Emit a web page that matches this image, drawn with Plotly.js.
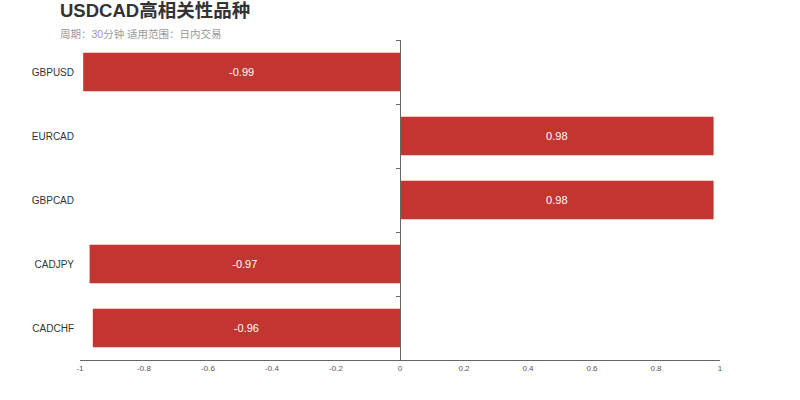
<!DOCTYPE html>
<html>
<head>
<meta charset="utf-8">
<script src="https://cdn.plot.ly/plotly-3.0.1.min.js"></script>
<style>html,body{margin:0;padding:0;background:#fff;}#chart{width:800px;height:400px;}</style>
</head>
<body>
<div id="chart"></div>
<script>
var categories = ["GBPUSD", "EURCAD", "GBPCAD", "CADJPY", "CADCHF"];
var values = [-0.99, 0.98, 0.98, -0.97, -0.96];
var xTickVals = [-1, -0.8, -0.6, -0.4, -0.2, 0, 0.2, 0.4, 0.6, 0.8, 1];
var titleText = "USDCAD高相关性品种";
var subtitleText = "周期：30分钟 适用范围：日内交易";

var catOrder = categories.slice().reverse();

var bars = {
  type: "bar",
  orientation: "h",
  x: values,
  y: categories,
  marker: {color: "#c23531"},
  text: values.map(function(v){return v.toFixed(2);}),
  textposition: "inside",
  insidetextanchor: "middle",
  textfont: {color: "#ffffff", size: 11, family: "Liberation Sans, Arial, sans-serif"},
  hoverinfo: "skip",
  width: 0.6
};
var ghost = {
  type: "scatter",
  mode: "markers",
  x: values,
  y: categories,
  yaxis: "y2",
  marker: {opacity: 0},
  hoverinfo: "skip",
  showlegend: false
};

var layout = {
  width: 800, height: 400,
  margin: {l: 80, r: 80, t: 40, b: 40},
  paper_bgcolor: "#fff", plot_bgcolor: "#fff",
  showlegend: false,
  font: {family: "Liberation Sans, Arial, sans-serif", color: "#333"},
  xaxis: {
    range: [-1, 1], tickvals: xTickVals, ticktext: xTickVals.map(String),
    showgrid: false, zeroline: false, showline: true, linecolor: "#666", linewidth: 1,
    ticks: "", tickfont: {size: 8, color: "#555"}, fixedrange: true
  },
  yaxis: {
    type: "category", categoryorder: "array", categoryarray: catOrder,
    showgrid: false, zeroline: false, showline: false, ticks: "",
    tickfont: {size: 10, color: "#333"}, ticklabelstandoff: 5, fixedrange: true
  },
  yaxis2: {
    type: "category", categoryorder: "array", categoryarray: catOrder,
    overlaying: "y", matches: "y", anchor: "free", position: 0.5, side: "left",
    showgrid: false, zeroline: false, showline: true, linecolor: "#666", linewidth: 1,
    ticks: "outside", ticklen: 4, tickcolor: "#666", tickson: "boundaries",
    showticklabels: false, fixedrange: true
  },
  annotations: [
    {xref: "paper", yref: "paper", x: -0.035, y: 1.092, xanchor: "left", yanchor: "middle",
     text: "<b>" + titleText + "</b>", showarrow: false,
     font: {size: 18.5, color: "#333", family: "Liberation Sans, Noto Sans CJK SC, sans-serif"}},
    {xref: "paper", yref: "paper", x: -0.035, y: 1.019, xanchor: "left", yanchor: "middle",
     text: subtitleText, showarrow: false,
     font: {size: 10.5, color: "#999", family: "Liberation Sans, Noto Sans CJK SC, sans-serif"}}
  ]
};

Plotly.newPlot("chart", [bars, ghost], layout, {displayModeBar: false, staticPlot: true});
</script>
</body>
</html>
